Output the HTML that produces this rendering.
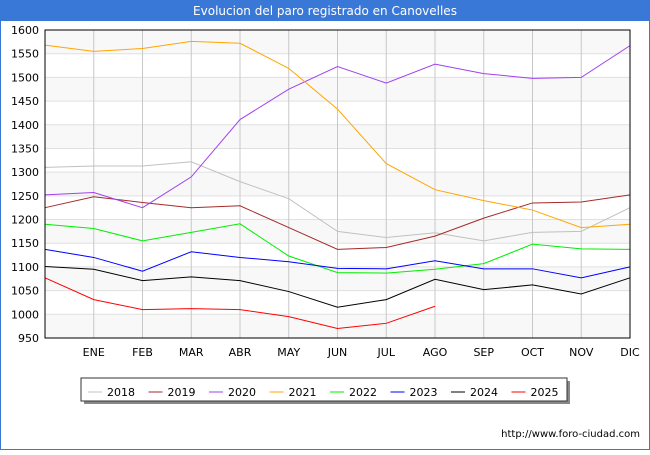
<!DOCTYPE html>
<html><head><meta charset="utf-8"><style>
body{margin:0;width:650px;height:450px;overflow:hidden;background:#fff;font-family:"Liberation Sans","DejaVu Sans",sans-serif}
</style></head><body>
<svg width="650" height="450" font-family="DejaVu Sans, Liberation Sans, sans-serif">
<rect x="0" y="0" width="650" height="450" fill="#fff" stroke="#3a78d8" stroke-width="2"/>
<rect x="0" y="0" width="650" height="21" fill="#3a78d8"/>
<text x="325" y="15" text-anchor="middle" fill="#fff" font-size="12">Evolucion del paro registrado en Canovelles</text>
<g id="plot"></g>
<g>
<rect x="84" y="381" width="486" height="23" fill="#888"/>
<rect x="81" y="378" width="486" height="23" fill="#fff" stroke="#333"/>
<g id="leg"></g>
</g>
<text x="640" y="437" text-anchor="end" font-size="10" fill="#000">http://www.foro-ciudad.com</text>
</svg>
<script>
const months=["","ENE","FEB","MAR","ABR","MAY","JUN","JUL","AGO","SEP","OCT","NOV","DIC"];
const yTicks=[950,1000,1050,1100,1150,1200,1250,1300,1350,1400,1450,1500,1550,1600];
const seriesNames=["2018","2019","2020","2021","2022","2023","2024","2025"];
const seriesColors=["#c0c0c0","#a52a2a","#a040f0","#ffa500","#00ee00","#0000ff","#000000","#ff0000"];
const s2018=[1310,1313,1313,1322,1280,1244,1175,1162,1172,1155,1173,1175,1225];
const s2019=[1225,1248,1236,1225,1229,1183,1137,1141,1165,1203,1235,1237,1252];
const s2020=[1252,1257,1225,1290,1411,1475,1523,1488,1528,1508,1498,1500,1567];
const s2021=[1568,1555,1561,1576,1572,1519,1433,1318,1263,1240,1220,1183,1190];
const s2022=[1190,1181,1155,1173,1191,1123,1088,1087,1095,1107,1148,1138,1137];
const s2023=[1137,1120,1091,1132,1120,1111,1097,1096,1113,1096,1096,1077,1100];
const s2024=[1101,1095,1071,1079,1071,1048,1015,1031,1074,1052,1062,1043,1077];
const s2025=[1077,1031,1010,1012,1010,995,970,981,1017];
const allSeries=[s2018,s2019,s2020,s2021,s2022,s2023,s2024,s2025];
const X0=45,X1=630,Y0=30,Y1=338,ymin=950,ymax=1600;
const x=i=>X0+i*(X1-X0)/(months.length-1);
const y=v=>Y1-(v-ymin)/(ymax-ymin)*(Y1-Y0);
const NS="http://www.w3.org/2000/svg";
const plot=document.getElementById('plot');
function mk(t,a,p){const e=document.createElementNS(NS,t);for(const k in a)e.setAttribute(k,a[k]);(p||plot).appendChild(e);return e;}
for(let i=0;i<yTicks.length-1;i++){
 if(i%2==0){const r=mk('rect',{x:X0,y:y(yTicks[i+1]),width:X1-X0,height:y(yTicks[i])-y(yTicks[i+1]),fill:'#f8f8f8'});
 
 }
}
yTicks.forEach(v=>{
 const l=mk('line',{x1:X0,x2:X1,y1:y(v),y2:y(v),stroke:'#e0e0e0'});
 
 
 const t=mk('text',{x:X0-6,y:y(v)+4,'text-anchor':'end','font-size':11,fill:'#000'});
 t.textContent=v;
 
 
});
months.forEach((m,i)=>{
 if(i==0)return;
 const l=mk('line',{x1:x(i),x2:x(i),y1:Y0,y2:Y1,stroke:'#c8c8c8'});
 
 
 const t=mk('text',{x:x(i),y:356,'text-anchor':'middle','font-size':11,fill:'#000'});
 t.textContent=m;
 
 
});
allSeries.forEach((s,k)=>{
 const p=mk('polyline',{points:s.map((v,i)=>x(i)+','+y(v)).join(' '),fill:'none',stroke:seriesColors[k],'stroke-width':1});
 
 
});
const b=mk('rect',{x:X0,y:Y0,width:X1-X0,height:Y1-Y0,fill:'none',stroke:'#000'});


const leg=document.getElementById('leg');
seriesNames.forEach((n,k)=>{
 const lx=88+k*60.5;
 const l=mk('line',{x1:lx,x2:lx+14,y1:392,y2:392,stroke:seriesColors[k],'stroke-width':1},leg);
 
 
 const t=mk('text',{x:lx+19,y:396,'font-size':11,fill:'#000'},leg);
 t.textContent=n;
 
 
});
</script>
</body></html>
